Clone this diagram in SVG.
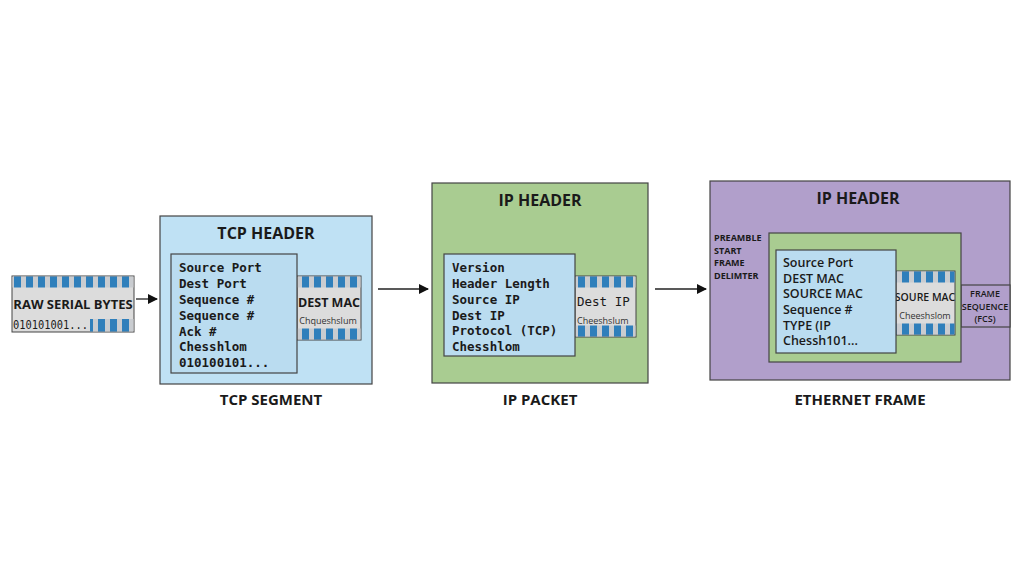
<svg xmlns="http://www.w3.org/2000/svg" width="1024" height="585" viewBox="0 0 1024 585">
<defs>
<pattern id="st" x="0" y="0" width="12" height="12" patternUnits="userSpaceOnUse"><rect width="12" height="12" fill="#c9ccd0"/><rect x="2" width="7" height="12" fill="#2f7fbb"/></pattern>
<marker id="ah" markerWidth="10" markerHeight="10" refX="9" refY="5" orient="auto" markerUnits="userSpaceOnUse"><path d="M0,0 L10,5 L0,10 z" fill="#111"/></marker>
<style>
.h{font-family:"Open Sans","Liberation Sans",sans-serif;font-weight:bold;fill:#1a1a1a}
.m{font-family:"DejaVu Sans Mono","Liberation Mono",monospace;font-weight:bold;font-size:12.5px;fill:#1a1a1a}
.s{font-family:"Open Sans","Liberation Sans",sans-serif;fill:#333;font-size:9px}
.n{font-weight:normal}
.sb{font-weight:600}
.b{stroke:#444;stroke-width:1.2}
.g{fill:#dcdcdc;stroke:#444;stroke-width:1}
</style>
</defs>
<rect width="1024" height="585" fill="#ffffff"/>
<g id="connectors" stroke="#222" stroke-width="1.3" fill="none">
<line x1="136" y1="299" x2="157" y2="299" marker-end="url(#ah)"/>
<line x1="378" y1="289" x2="428" y2="289" marker-end="url(#ah)"/>
<line x1="655" y1="289" x2="706" y2="289" marker-end="url(#ah)"/>
</g>
<g id="raw">
<rect x="12" y="276" width="122" height="56" class="g"/>
<rect x="12.5" y="276.5" width="121" height="11" fill="url(#st)"/>
<rect x="90" y="319" width="43.5" height="12.5" fill="url(#st)"/>
<text x="73" y="309" class="h" font-size="13" text-anchor="middle">RAW SERIAL BYTES</text>
<text x="13" y="329" class="m n" font-size="10" textLength="75" lengthAdjust="spacingAndGlyphs">010101001...</text>
</g>
<g id="tcp">
<rect x="160" y="216" width="212" height="168" fill="#bfe1f4" class="b"/>
<text x="266" y="239" class="h" font-size="16" text-anchor="middle">TCP HEADER</text>
<rect x="297" y="276" width="64" height="64" class="g"/>
<rect x="297.5" y="276.5" width="63" height="11" fill="url(#st)"/>
<rect x="297.5" y="328.5" width="63" height="11" fill="url(#st)"/>
<text x="329" y="307" class="h" font-size="12.5" text-anchor="middle">DEST MAC</text>
<text x="328" y="324" class="s" text-anchor="middle">Chqueshslum</text>
<rect x="171" y="254" width="126" height="119" fill="#badcf0" class="b"/>
<text class="m"><tspan x="179" y="272">Source Port</tspan><tspan x="179" y="288">Dest Port</tspan><tspan x="179" y="304">Sequence #</tspan><tspan x="179" y="320">Sequence #</tspan><tspan x="179" y="336">Ack #</tspan><tspan x="179" y="351">Chesshlom</tspan><tspan x="179" y="367">010100101...</tspan></text>
<text x="271" y="405" class="h" font-size="15" text-anchor="middle">TCP SEGMENT</text>
</g>
<g id="ip">
<rect x="432" y="183" width="216" height="200" fill="#a9cc91" class="b"/>
<text x="540" y="206" class="h" font-size="16" text-anchor="middle">IP HEADER</text>
<rect x="575" y="276" width="61" height="61" class="g"/>
<rect x="575.5" y="276.5" width="60" height="11" fill="url(#st)"/>
<rect x="575.5" y="325.5" width="60" height="11" fill="url(#st)"/>
<text x="577" y="306" class="m n">Dest IP</text>
<text x="577" y="324" class="s">Cheeshslum</text>
<rect x="444" y="254" width="131" height="102" fill="#badcf0" class="b"/>
<text class="m"><tspan x="452" y="272">Version</tspan><tspan x="452" y="288">Header Length</tspan><tspan x="452" y="304">Source IP</tspan><tspan x="452" y="320">Dest IP</tspan><tspan x="452" y="335">Protocol (TCP)</tspan><tspan x="452" y="351">Chesshlom</tspan></text>
<text x="540" y="405" class="h" font-size="15" text-anchor="middle">IP PACKET</text>
</g>
<g id="ethernet">
<rect x="710" y="181" width="300" height="199" fill="#b19fcb" class="b"/>
<text x="858" y="204" class="h" font-size="16" text-anchor="middle">IP HEADER</text>
<text class="h" font-size="9"><tspan x="714" y="241">PREAMBLE</tspan><tspan x="714" y="254">START</tspan><tspan x="714" y="266">FRAME</tspan><tspan x="714" y="279">DELIMTER</tspan></text>
<rect x="961" y="285" width="49" height="42" fill="#b19fcb" class="b"/>
<text class="h sb" font-size="9" text-anchor="middle"><tspan x="985" y="297">FRAME</tspan><tspan x="985" y="310">SEQUENCE</tspan><tspan x="985" y="322">(FCS)</tspan></text>
<rect x="769" y="233" width="192" height="129" fill="#a9cc91" class="b"/>
<rect x="896" y="271" width="59" height="64" class="g"/>
<rect x="896.5" y="271.5" width="58" height="11" fill="url(#st)"/>
<rect x="896.5" y="323.5" width="58" height="11" fill="url(#st)"/>
<text x="925" y="301" class="h sb" font-size="10.5" text-anchor="middle">SOURE MAC</text>
<text x="925" y="319" class="s" text-anchor="middle">Cheeshslom</text>
<rect x="776" y="250" width="120" height="103" fill="#badcf0" class="b"/>
<text class="h sb" font-size="12.5"><tspan x="783" y="267">Source Port</tspan><tspan x="783" y="283">DEST MAC</tspan><tspan x="783" y="298">SOURCE MAC</tspan><tspan x="783" y="314">Sequence #</tspan><tspan x="783" y="330">TYPE (IP</tspan><tspan x="783" y="345">Chessh101...</tspan></text>
<text x="860" y="405" class="h" font-size="15" text-anchor="middle">ETHERNET FRAME</text>
</g>
</svg>
